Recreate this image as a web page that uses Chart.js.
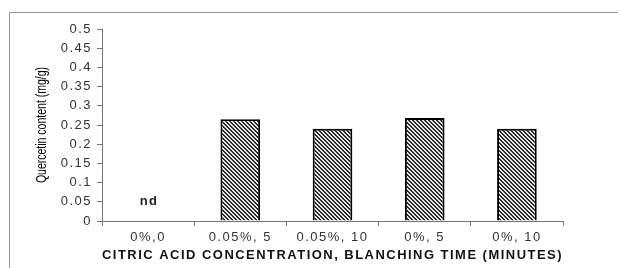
<!DOCTYPE html>
<html lang="en">
<head>
    <meta charset="UTF-8">
    <title>Quercetin content</title>
    <script src="https://cdn.jsdelivr.net/npm/chart.js"></script>
    <style>
        html, body { margin: 0; padding: 0; background: #fff; }
        #wrap { position: relative; width: 618px; height: 268px; }
        #frame {
            position: absolute; left: 9px; top: 12px; right: 0; bottom: 0;
            border-top: 1px solid #999; border-left: 1px solid #999;
        }
        canvas { position: absolute; left: 0; top: 0; }
    </style>
</head>
<body>
<div id="wrap">
    <div id="frame"></div>
    <canvas id="chart" width="618" height="268"></canvas>
</div>
<script>
    // data
    const categories = ['0%,0', '0.05%, 5', '0.05%, 10', '0%, 5', '0%, 10'];
    const quercetin = [null, 0.265, 0.24, 0.268, 0.24];
    const notDetected = ['nd', '', '', '', ''];
    const ndLevel = 0.05;
    const yTicks = [0, 0.05, 0.1, 0.15, 0.2, 0.25, 0.3, 0.35, 0.4, 0.45, 0.5];
    const yTitle = 'Quercetin content (mg/g)';

    // fine diagonal hatching like the original bars
    function hatch() {
        const c = document.createElement('canvas');
        c.width = 4; c.height = 4;
        const g = c.getContext('2d');
        g.fillStyle = '#e8e8e8';
        g.fillRect(0, 0, 4, 4);
        g.fillStyle = '#2a2a2a';
        for (let i = 0; i < 4; i++) {
            g.fillRect(i, i, 1, 1);
            g.fillRect((i + 1) % 4, i, 1, 1);
        }
        return g.createPattern(c, 'repeat');
    }

    // wide letter spacing of the original figure, y title drawn narrow without it
    const spacing = {
        id: 'spacing',
        beforeLayout(chart) { chart.ctx.letterSpacing = '1.5px'; },
        beforeDraw(chart) { chart.ctx.letterSpacing = '1.5px'; },
        afterDatasetsDraw(chart) {
            const { ctx, scales, chartArea } = chart;
            ctx.save();
            ctx.font = 'bold 13px "Liberation Sans"';
            ctx.fillStyle = '#222';
            ctx.textAlign = 'center';
            ctx.textBaseline = 'middle';
            notDetected.forEach((t, i) => {
                if (t) ctx.fillText(t, scales.x.getPixelForValue(i) + 1, scales.y.getPixelForValue(ndLevel));
            });
            ctx.letterSpacing = '0px';
            ctx.font = '14px "Liberation Sans"';
            ctx.fillStyle = '#000';
            ctx.translate(42, (chartArea.top + chartArea.bottom) / 2);
            ctx.rotate(-Math.PI / 2);
            ctx.scale(0.75, 1);
            ctx.fillText(yTitle, 0, 0);
            ctx.restore();
        }
    };

    const tickFont = { family: '"Liberation Sans"', size: 13 };

    new Chart(document.getElementById('chart'), {
        type: 'bar',
        data: {
            labels: categories,
            datasets: [{
                data: quercetin,
                backgroundColor: hatch(),
                borderColor: '#000',
                borderWidth: 2,
                categoryPercentage: 1,
                barPercentage: 0.43
            }]
        },
        options: {
            responsive: false,
            animation: false,
            layout: { padding: { left: 0, right: 55, top: 29, bottom: 0 } },
            plugins: { legend: { display: false }, tooltip: { enabled: false } },
            scales: {
                x: {
                    afterFit(axis) { axis.height = 47; },
                    grid: { drawOnChartArea: false, tickLength: 5, color: '#777' },
                    border: { color: '#777' },
                    ticks: { color: '#333', font: tickFont, padding: 4, maxRotation: 0 },
                    title: {
                        display: true,
                        text: 'CITRIC ACID CONCENTRATION, BLANCHING TIME (MINUTES)',
                        color: '#111',
                        font: { family: '"Liberation Sans"', size: 13, weight: 'bold' },
                        padding: { top: 4, bottom: 5 }
                    }
                },
                y: {
                    min: 0,
                    max: 0.5,
                    afterFit(axis) { axis.width = 102; },
                    afterBuildTicks(axis) { axis.ticks = yTicks.map(v => ({ value: v })); },
                    grid: { drawOnChartArea: false, tickLength: 5, color: '#777' },
                    border: { color: '#777' },
                    ticks: { color: '#333', font: tickFont, padding: 5, callback: v => String(v) }
                }
            }
        },
        plugins: [spacing]
    });
</script>
</body>
</html>
